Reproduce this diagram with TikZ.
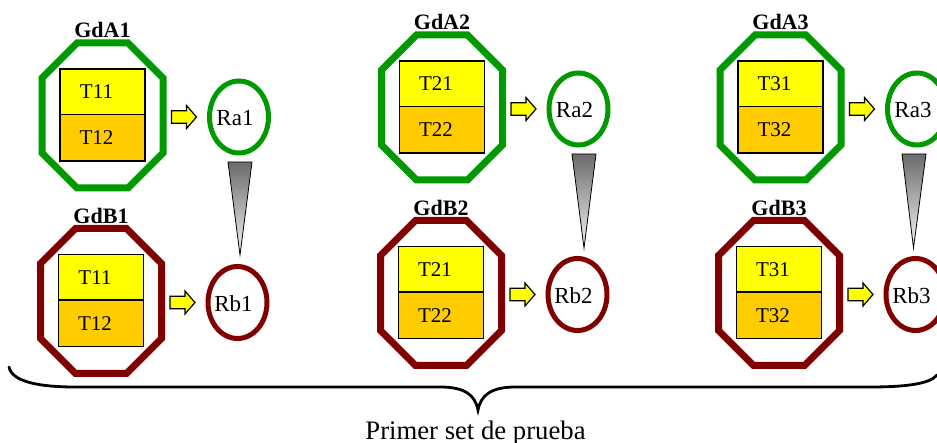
\documentclass[tikz,border=0pt]{standalone}
\usepackage{fontspec}
\setmainfont{Liberation Serif}
\usetikzlibrary{shapes.geometric}
\definecolor{ggreen}{RGB}{0,153,0}
\definecolor{dred}{RGB}{128,0,0}
\definecolor{tyellow}{RGB}{255,255,0}
\definecolor{torange}{RGB}{255,204,0}
\tikzset{
  octo/.style={line width=7pt, line join=miter},
  tbox/.style={draw=black, line width=1.3pt, minimum width=85pt, inner sep=0pt, rectangle},
  ttext/.style={inner sep=0pt, font=\fontsize{21}{24}\selectfont},
  glabel/.style={inner sep=0pt, font=\fontsize{22}{25}\selectfont\bfseries},
  rell/.style={ellipse, line width=5pt, minimum width=59pt, minimum height=72pt, inner sep=0pt},
  rtext/.style={inner sep=0pt, font=\fontsize{23}{26}\selectfont},
  barrow/.style={draw=black, line width=1.2pt, fill=tyellow, line join=miter},
  funnel/.style={draw=black, line width=0.8pt, top color=black!58, bottom color=black!4},
  bracestyle/.style={line width=2.8pt, line cap=round},
}
\newcommand\gdgroup[8]{%
  \begin{scope}[shift={(#2,#3)}]
    \draw[octo, draw=#4] (-25.5,-72.5) -- (25.5,-72.5) -- (60.5,-37.5) -- (60.5,37.5)
      -- (25.5,72.5) -- (-25.5,72.5) -- (-60.5,37.5) -- (-60.5,-37.5) -- cycle;
    \node[tbox, fill=tyellow, minimum height=45.5pt] (#1top) at (0,-23.75) {};
    \node[tbox, fill=torange, minimum height=46.5pt] (#1bot) at (0,22.25) {};
    \node[ttext] (#1ttop) at (-6,-23.5) {#6};
    \node[ttext] (#1tbot) at (-6,22.5) {#7};
    \node[glabel] (#1lab) at (0,-85.5) {#5};
    \draw[barrow] (69,-4.8) -- (84,-4.8) -- (84,-10) -- (94,1.5) -- (84,13) -- (84,7.8) -- (69,7.8) -- cycle;
    \node[rell, draw=#4] (#1res) at (136.5,1.5) {};
    \node[rtext] (#1rtext) at (132.5,3) {#8};
  \end{scope}%
}
\begin{document}
\begin{tikzpicture}[x=1pt,y=-1pt]
\useasboundingbox (0,0) rectangle (937,443);
\fill[white] (0,0) rectangle (937,443);

\gdgroup{a1}{102.5}{115.5}{ggreen}{GdA1}{T11}{T12}{Ra1}
\gdgroup{b1}{101}{301}{dred}{GdB1}{T11}{T12}{Rb1}
\gdgroup{a2}{442}{107.5}{ggreen}{GdA2}{T21}{T22}{Ra2}
\gdgroup{b2}{441}{293}{dred}{GdB2}{T21}{T22}{Rb2}
\gdgroup{a3}{780.5}{107.5}{ggreen}{GdA3}{T31}{T32}{Ra3}
\gdgroup{b3}{779}{293}{dred}{GdB3}{T31}{T32}{Rb3}

\shadedraw[funnel] (228,162) -- (252,162) -- (240,255) -- cycle;
\shadedraw[funnel] (572,154) -- (596,154) -- (584,248) -- cycle;
\shadedraw[funnel] (902,154) -- (926,154) -- (913.5,248) -- cycle;

\draw[bracestyle] (9,367) .. controls (12,382) and (40,387) .. (75,387) -- (440,387)
  .. controls (465,387) and (475,395) .. (478,410)
  .. controls (481,395) and (491,387) .. (516,387) -- (870,387)
  .. controls (905,387) and (930,384) .. (937,375);

\node[inner sep=0pt, anchor=base, font=\fontsize{26.7}{30}\selectfont] (caption) at (475.5,439) {Primer set de prueba};
\end{tikzpicture}
\end{document}
